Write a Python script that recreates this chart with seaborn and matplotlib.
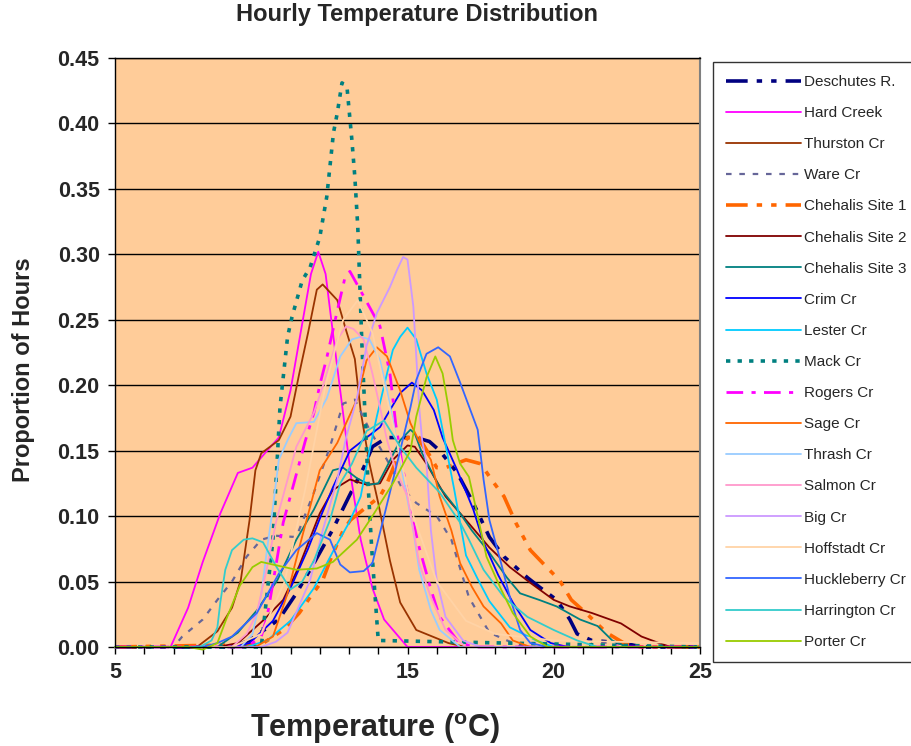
import matplotlib
matplotlib.use("Agg")
import matplotlib.pyplot as plt
import seaborn as sns
from matplotlib.ticker import MultipleLocator, FormatStrFormatter

# Hourly temperature distributions
# (temperature in deg C, proportion of hours)
deschutes_t = [5, 9.0, 9.6, 10.6, 11.2, 11.8, 12.45, 13.0, 13.5, 13.8, 14.3, 14.75, 15.3, 15.75, 16.1, 16.7, 17.25, 17.8, 18.3, 19.1, 19.5, 20.1, 20.55, 20.8, 21.3, 22.4, 23.0, 25]
deschutes_p = [0, 0, 0.005, 0.021, 0.041, 0.064, 0.09, 0.115, 0.137, 0.153, 0.16, 0.16, 0.16, 0.157, 0.15, 0.133, 0.11, 0.084, 0.069, 0.053, 0.046, 0.036, 0.021, 0.01, 0.005, 0.003, 0, 0]

hard_t = [5, 6.9, 7.5, 8.0, 8.6, 9.2, 9.7, 10.2, 10.6, 11.0, 11.4, 11.7, 11.95, 12.2, 12.45, 12.7, 13.1, 13.4, 13.8, 14.2, 15.0, 25]
hard_p = [0, 0, 0.03, 0.065, 0.102, 0.133, 0.137, 0.15, 0.16, 0.196, 0.247, 0.285, 0.302, 0.285, 0.24, 0.196, 0.125, 0.082, 0.045, 0.021, 0, 0]

thurston_t = [5, 7.8, 8.5, 9.0, 9.3, 9.6, 9.8, 10.0, 10.6, 11.0, 11.3, 11.6, 11.9, 12.1, 12.6, 12.9, 13.2, 13.4, 13.7, 14.0, 14.4, 14.75, 15.3, 16.4, 17.0, 25]
thurston_p = [0, 0, 0.012, 0.03, 0.051, 0.097, 0.135, 0.148, 0.158, 0.176, 0.209, 0.24, 0.273, 0.277, 0.265, 0.242, 0.22, 0.18, 0.14, 0.11, 0.066, 0.034, 0.013, 0.003, 0, 0]

ware_t = [5, 7.0, 7.3, 8.0, 8.5, 9.0, 9.5, 10.0, 10.5, 11.2, 11.8, 12.35, 12.8, 13.2, 13.7, 14.3, 14.8, 15.3, 16.0, 16.5, 17.1, 17.8, 18.4, 19.0, 25]
ware_p = [0, 0, 0.008, 0.021, 0.036, 0.05, 0.069, 0.082, 0.085, 0.084, 0.118, 0.153, 0.186, 0.189, 0.166, 0.143, 0.122, 0.11, 0.1, 0.082, 0.038, 0.011, 0.005, 0, 0]

chehalis1_t = [5, 10.0, 10.75, 11.3, 11.67, 12.1, 12.35, 12.6, 12.8, 13.05, 13.6, 14.06, 14.3, 14.75, 15.0, 15.4, 16.0, 16.3, 17.0, 17.5, 17.9, 18.3, 18.7, 19.2, 19.8, 20.2, 20.6, 21.1, 21.8, 22.4, 23.0, 25]
chehalis1_p = [0, 0.002, 0.013, 0.026, 0.038, 0.051, 0.066, 0.079, 0.089, 0.097, 0.107, 0.115, 0.125, 0.15, 0.16, 0.16, 0.137, 0.137, 0.143, 0.14, 0.127, 0.115, 0.095, 0.074, 0.06, 0.051, 0.036, 0.026, 0.011, 0.003, 0, 0]

chehalis2_t = [5, 8.5, 9.2, 10.1, 10.75, 11.3, 12.0, 12.45, 13.03, 13.6, 14.06, 14.5, 15.0, 15.25, 15.65, 16.3, 17.0, 17.8, 18.5, 19.2, 20.0, 20.55, 21.3, 22.3, 23.0, 23.6, 24.0, 25]
chehalis2_p = [0, 0, 0.003, 0.021, 0.036, 0.062, 0.102, 0.12, 0.128, 0.124, 0.125, 0.143, 0.154, 0.153, 0.14, 0.115, 0.097, 0.076, 0.061, 0.049, 0.036, 0.031, 0.026, 0.018, 0.008, 0.003, 0, 0]

chehalis3_t = [5, 8.5, 9.2, 9.85, 10.55, 11.2, 11.8, 12.45, 12.8, 13.27, 13.7, 14.0, 14.3, 14.75, 15.1, 15.25, 15.5, 16.1, 16.8, 17.2, 17.8, 18.4, 18.85, 19.5, 20.1, 20.9, 21.5, 22.0, 22.5, 25]
chehalis3_p = [0, 0, 0.011, 0.028, 0.051, 0.082, 0.105, 0.135, 0.137, 0.129, 0.124, 0.125, 0.138, 0.158, 0.166, 0.163, 0.148, 0.122, 0.102, 0.089, 0.072, 0.053, 0.041, 0.036, 0.031, 0.021, 0.016, 0.005, 0, 0]

crim_t = [5, 9.0, 9.6, 10.4, 11.0, 11.6, 12.0, 12.45, 13.03, 13.6, 14.06, 14.4, 14.75, 15.15, 15.5, 15.9, 16.2, 16.7, 17.25, 17.6, 18.1, 18.6, 19.2, 19.9, 20.5, 25]
crim_p = [0, 0, 0.003, 0.02, 0.045, 0.075, 0.098, 0.122, 0.15, 0.16, 0.168, 0.181, 0.194, 0.202, 0.196, 0.181, 0.16, 0.135, 0.105, 0.08, 0.055, 0.034, 0.013, 0.003, 0, 0]

lester_t = [5, 9.5, 10.2, 11.0, 11.8, 12.5, 13.0, 13.4, 13.7, 13.95, 14.3, 14.5, 14.75, 15.0, 15.3, 15.65, 16.0, 16.2, 16.6, 17.0, 17.4, 17.8, 18.5, 19.4, 20.0, 25]
lester_p = [0, 0, 0.005, 0.02, 0.045, 0.075, 0.095, 0.115, 0.15, 0.176, 0.209, 0.227, 0.237, 0.244, 0.235, 0.209, 0.189, 0.166, 0.12, 0.07, 0.052, 0.035, 0.015, 0.005, 0, 0]

mack_t = [5, 10.0, 10.2, 10.4, 10.64, 10.9, 11.05, 11.4, 11.67, 12.0, 12.24, 12.47, 12.6, 12.76, 12.93, 13.1, 13.2, 13.3, 13.44, 13.65, 13.78, 14.0, 25]
mack_p = [0, 0, 0.041, 0.082, 0.183, 0.237, 0.252, 0.28, 0.29, 0.313, 0.344, 0.393, 0.408, 0.431, 0.428, 0.387, 0.359, 0.321, 0.232, 0.125, 0.074, 0.005, 0]

rogers_t = [5, 9.5, 10.0, 10.2, 10.4, 10.75, 11.2, 11.5, 11.8, 12.0, 12.24, 12.4, 12.6, 12.86, 13.03, 13.5, 14.06, 14.4, 14.6, 14.85, 15.2, 15.4, 15.8, 16.1, 16.7, 17.2, 25]
rogers_p = [0, 0, 0.008, 0.023, 0.049, 0.095, 0.132, 0.157, 0.179, 0.2, 0.221, 0.237, 0.257, 0.282, 0.287, 0.268, 0.245, 0.209, 0.17, 0.135, 0.095, 0.076, 0.044, 0.023, 0.005, 0, 0]

sage_t = [5, 9.8, 10.4, 10.9, 11.3, 11.67, 12.0, 12.6, 12.9, 13.27, 13.6, 13.95, 14.3, 14.75, 15.1, 15.4, 15.8, 16.1, 16.5, 16.8, 17.2, 17.6, 18.2, 18.6, 19.2, 25]
sage_p = [0, 0, 0.008, 0.041, 0.076, 0.107, 0.135, 0.156, 0.171, 0.189, 0.219, 0.229, 0.222, 0.196, 0.171, 0.157, 0.143, 0.115, 0.089, 0.064, 0.046, 0.031, 0.018, 0.005, 0, 0]

thrash_t = [5, 9.3, 9.7, 10.0, 10.2, 10.4, 10.6, 10.9, 11.2, 11.8, 12.24, 12.7, 13.1, 13.4, 13.7, 14.06, 14.3, 14.5, 14.85, 15.2, 15.4, 15.8, 16.1, 16.8, 25]
thrash_p = [0, 0, 0.01, 0.04, 0.075, 0.107, 0.143, 0.158, 0.171, 0.172, 0.19, 0.222, 0.235, 0.237, 0.235, 0.219, 0.196, 0.173, 0.13, 0.089, 0.059, 0.028, 0.013, 0, 0]

salmon_t = [5, 9.0, 9.5, 9.85, 10.2, 10.5, 10.9, 11.2, 11.8, 12.1, 12.35, 12.6, 12.9, 13.15, 13.5, 13.8, 14.06, 14.3, 14.6, 15.0, 15.4, 15.8, 16.3, 17.0, 25]
salmon_p = [0, 0, 0.01, 0.026, 0.061, 0.095, 0.128, 0.153, 0.179, 0.199, 0.217, 0.235, 0.245, 0.243, 0.235, 0.209, 0.183, 0.158, 0.135, 0.115, 0.064, 0.038, 0.013, 0, 0]

big_t = [5, 10.0, 10.5, 10.9, 11.67, 12.1, 12.6, 12.9, 13.27, 13.6, 13.95, 14.4, 14.64, 14.85, 15.0, 15.2, 15.3, 15.4, 15.5, 15.65, 15.8, 16.0, 16.3, 16.9, 17.5, 25]
big_p = [0, 0, 0.004, 0.011, 0.051, 0.089, 0.128, 0.16, 0.19, 0.23, 0.255, 0.275, 0.288, 0.298, 0.296, 0.26, 0.222, 0.183, 0.158, 0.14, 0.089, 0.051, 0.023, 0.005, 0, 0]

hoffstadt_t = [5, 9.0, 10.0, 10.8, 11.5, 12.2, 12.8, 13.3, 13.8, 14.5, 15.2, 16.0, 17.0, 18.0, 20.0, 22.0, 25]
hoffstadt_p = [0, 0, 0.01, 0.05, 0.12, 0.2, 0.25, 0.265, 0.24, 0.17, 0.1, 0.05, 0.02, 0.01, 0.005, 0.004, 0.003]

huckleberry_t = [5, 8.0, 8.5, 9.0, 9.85, 10.6, 11.2, 11.9, 12.35, 12.7, 13.03, 13.5, 13.8, 14.2, 14.75, 15.1, 15.3, 15.65, 16.05, 16.45, 16.8, 17.1, 17.4, 17.6, 17.8, 18.2, 18.5, 18.85, 19.2, 19.8, 25]
huckleberry_p = [0, 0, 0.003, 0.008, 0.026, 0.056, 0.074, 0.087, 0.082, 0.063, 0.057, 0.058, 0.064, 0.1, 0.15, 0.183, 0.204, 0.224, 0.229, 0.222, 0.202, 0.184, 0.166, 0.128, 0.097, 0.064, 0.038, 0.013, 0.003, 0, 0]

harrington_t = [5, 7.9, 8.3, 8.5, 8.6, 8.77, 9.0, 9.4, 9.7, 10.06, 10.5, 11.0, 11.4, 11.8, 12.35, 12.7, 13.1, 13.6, 14.2, 14.75, 15.3, 16.1, 16.8, 17.1, 17.6, 18.3, 19.1, 20.0, 20.8, 21.5, 25]
harrington_p = [0, 0, 0.005, 0.015, 0.034, 0.059, 0.074, 0.082, 0.083, 0.08, 0.062, 0.044, 0.05, 0.066, 0.097, 0.125, 0.14, 0.165, 0.173, 0.153, 0.137, 0.118, 0.095, 0.082, 0.059, 0.038, 0.023, 0.013, 0.005, 0, 0]

porter_t = [5, 7.5, 8.0, 8.5, 8.8, 9.27, 9.7, 10.0, 10.4, 11.2, 11.9, 12.45, 13.27, 13.8, 14.5, 15.1, 15.3, 15.65, 15.95, 16.2, 16.4, 16.55, 16.8, 17.1, 17.4, 17.7, 18.2, 18.6, 19.2, 19.8, 25]
porter_p = [0, 0, -0.002, 0.003, 0.021, 0.047, 0.061, 0.065, 0.063, 0.059, 0.06, 0.065, 0.082, 0.1, 0.125, 0.15, 0.176, 0.206, 0.222, 0.209, 0.183, 0.158, 0.14, 0.13, 0.1, 0.069, 0.044, 0.026, 0.008, 0, 0]

site_names = ["Deschutes R.", "Hard Creek", "Thurston Cr", "Ware Cr", "Chehalis Site 1",
              "Chehalis Site 2", "Chehalis Site 3", "Crim Cr", "Lester Cr", "Mack Cr",
              "Rogers Cr", "Sage Cr", "Thrash Cr", "Salmon Cr", "Big Cr",
              "Hoffstadt Cr", "Huckleberry Cr", "Harrington Cr", "Porter Cr"]

series = [
    (deschutes_t, deschutes_p), (hard_t, hard_p), (thurston_t, thurston_p), (ware_t, ware_p),
    (chehalis1_t, chehalis1_p), (chehalis2_t, chehalis2_p), (chehalis3_t, chehalis3_p),
    (crim_t, crim_p), (lester_t, lester_p), (mack_t, mack_p), (rogers_t, rogers_p),
    (sage_t, sage_p), (thrash_t, thrash_p), (salmon_t, salmon_p), (big_t, big_p),
    (hoffstadt_t, hoffstadt_p), (huckleberry_t, huckleberry_p), (harrington_t, harrington_p),
    (porter_t, porter_p),
]

# colour, line style, width for each site (Excel style)
styles = {
    "Deschutes R.": ("#000080", (0, (6, 2.5, 1.5, 2.5, 1.5, 2.5)), 2.6),
    "Hard Creek": ("#FF00FF", "-", 1.3),
    "Thurston Cr": ("#993300", "-", 1.3),
    "Ware Cr": ("#666699", (0, (2.5, 3.5)), 1.6),
    "Chehalis Site 1": ("#FF6600", (0, (6, 2.5, 1.5, 2.5, 1.5, 2.5)), 2.6),
    "Chehalis Site 2": ("#800000", "-", 1.3),
    "Chehalis Site 3": ("#008080", "-", 1.3),
    "Crim Cr": ("#0000FF", "-", 1.3),
    "Lester Cr": ("#00CCFF", "-", 1.3),
    "Mack Cr": ("#008080", (0, (1.2, 2.0)), 2.6),
    "Rogers Cr": ("#FF00FF", (0, (6, 3, 1.5, 3)), 2.0),
    "Sage Cr": ("#FF6600", "-", 1.3),
    "Thrash Cr": ("#99CCFF", "-", 1.3),
    "Salmon Cr": ("#FF99CC", "-", 1.3),
    "Big Cr": ("#CC99FF", "-", 1.3),
    "Hoffstadt Cr": ("#FFD3A6", "-", 1.3),
    "Huckleberry Cr": ("#3366FF", "-", 1.3),
    "Harrington Cr": ("#33CCCC", "-", 1.3),
    "Porter Cr": ("#99CC00", "-", 1.3),
}

sns.set_style("white")
plt.rcParams['font.family'] = ['Liberation Sans', 'DejaVu Sans']
plt.rcParams['mathtext.fontset'] = 'custom'
plt.rcParams['mathtext.rm'] = 'Liberation Sans:bold'

fig = plt.figure(figsize=(9.11, 7.46), dpi=100)
ax = fig.add_axes([115 / 911, 1 - 647 / 746, (700 - 115) / 911, (647 - 58) / 746])
ax.set_facecolor("#FFCC99")

for name, (t, p) in zip(site_names, series):
    color, ls, lw = styles[name]
    sns.lineplot(x=t, y=p, ax=ax, color=color, linestyle=ls, linewidth=lw,
                 label=name, sort=False, estimator=None, clip_on=False)

ax.set_xlim(5, 25)
ax.set_ylim(0, 0.45)
ax.xaxis.set_major_locator(MultipleLocator(5))
ax.xaxis.set_minor_locator(MultipleLocator(1))
ax.yaxis.set_major_locator(MultipleLocator(0.05))
ax.yaxis.set_major_formatter(FormatStrFormatter("%.2f"))
ax.yaxis.grid(True, color="black", linewidth=1)
ax.xaxis.grid(False)
ax.set_axisbelow(True)

for side in ["left", "bottom", "top"]:
    ax.spines[side].set_color("black")
    ax.spines[side].set_linewidth(1)
ax.spines["right"].set_color("#808080")
ax.spines["right"].set_linewidth(1.5)

ax.tick_params(axis="both", which="both", direction="out", length=5, width=1, color="black",
               left=True, bottom=True)
ax.tick_params(axis="both", which="major", labelsize=15.5, pad=6)
for lab in ax.get_xticklabels() + ax.get_yticklabels():
    lab.set_fontweight("bold")

ax.set_xlabel("")
ax.set_ylabel("")
fig.text(417 / 911, 1 - 15 / 746, "Hourly Temperature Distribution", ha="center", va="center",
         fontsize=17, fontweight="bold")
fig.text(24 / 911, 1 - 370 / 746, "Proportion of Hours", ha="center", va="center",
         rotation=90, fontsize=17, fontweight="bold")
fig.text(375 / 911, 1 - 729 / 746, r"Temperature ($\mathrm{^{o}}$C)", ha="center", va="center",
         fontsize=22, fontweight="bold")

leg = ax.legend(loc="upper left", bbox_to_anchor=(713 / 911, 1 - 62 / 746),
                bbox_transform=fig.transFigure, frameon=True, fancybox=False,
                fontsize=11, handlelength=4.9, labelspacing=1.12, borderpad=0.85,
                handletextpad=0.2, borderaxespad=0)
leg.get_frame().set_edgecolor("black")
leg.get_frame().set_linewidth(1)

fig.savefig("out.png", dpi=100, facecolor="white")
